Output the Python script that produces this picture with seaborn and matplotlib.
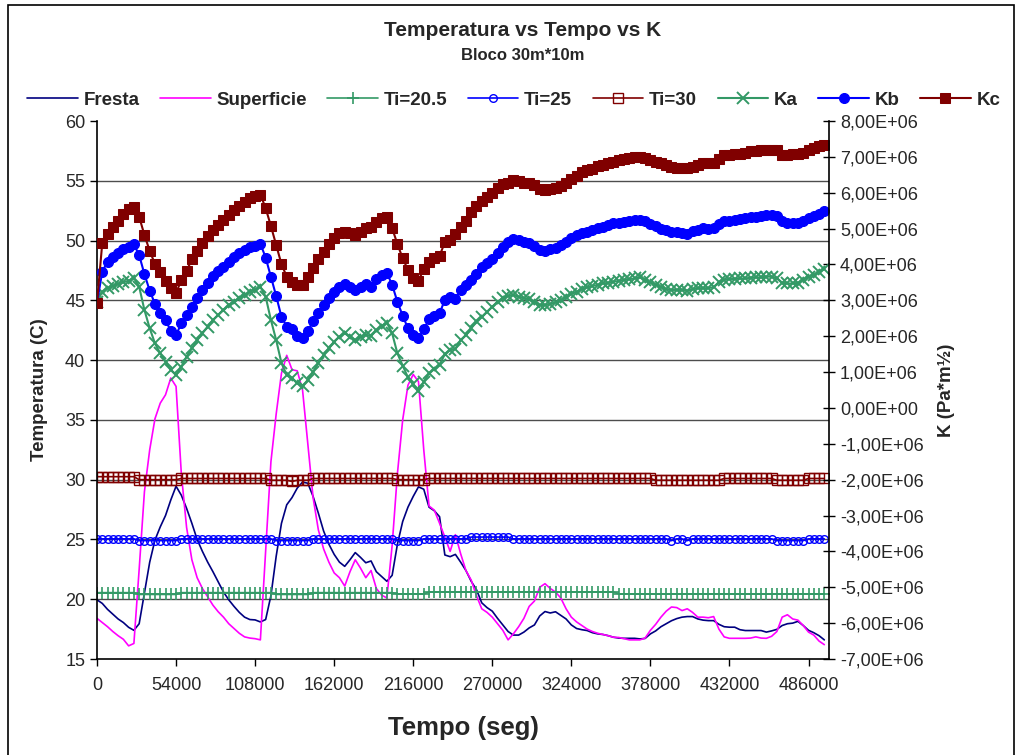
import numpy as np
import pandas as pd
import matplotlib
matplotlib.use("Agg")
import matplotlib.pyplot as plt
from matplotlib.patches import Rectangle
from matplotlib.ticker import FuncFormatter, MultipleLocator
import seaborn as sns

# tempo em segundos (passo de 1 hora)
tempo = np.arange(0, 500000, 3600)

fresta = [
    19.95, 19.65, 19.15, 18.75, 18.35, 18.05, 17.65, 17.4, 17.95, 20.5,
    23.1, 24.95, 26.05, 27.0, 28.3, 29.45, 28.7, 27.6, 26.35, 25.0,
    24.0, 23.1, 22.3, 21.45, 20.6, 19.95, 19.4, 18.9, 18.5, 18.3,
    18.27, 18.1, 18.3, 20.3, 23.6, 26.35, 27.9, 28.5, 29.3, 29.8,
    29.7, 28.6, 27.2, 25.7, 24.6, 23.75, 23.1, 22.75, 23.3, 23.9,
    23.5, 23.05, 23.2, 22.3, 21.9, 21.5, 22.0, 24.6, 26.5, 27.7,
    28.6, 29.4, 29.2, 27.7, 27.4, 26.9, 23.7, 23.56, 23.75, 23.1,
    22.4, 21.5, 20.8, 19.7, 19.3, 19.0, 18.4, 17.85, 17.3, 17.0,
    17.0, 17.25, 17.6, 17.85, 18.6, 18.97, 18.85, 18.95, 18.65, 18.35,
    17.85, 17.55, 17.45, 17.38, 17.2, 17.1, 17.05, 16.95, 16.82, 16.75,
    16.73, 16.73, 16.73, 16.68, 16.72, 17.1, 17.35, 17.7, 17.95, 18.2,
    18.38, 18.5, 18.55, 18.55, 18.35, 18.25, 18.21, 18.21, 17.9, 17.7,
    17.66, 17.66, 17.45, 17.38, 17.38, 17.38, 17.38, 17.25, 17.35, 17.48,
    17.8, 17.95, 18.0, 18.15, 17.8, 17.4, 17.2, 16.95, 16.6,
]

superficie = [
    18.4, 18.05, 17.7, 17.3, 16.95, 16.65, 16.1, 16.3, 22.5, 29.0,
    32.5, 35.1, 36.4, 37.1, 38.5, 37.8, 30.5, 26.0, 23.3, 21.8,
    20.9, 20.2, 19.5, 18.95, 18.5, 17.95, 17.55, 17.15, 16.85, 16.75,
    16.7, 16.6, 24.0, 31.5, 35.5, 38.9, 40.4, 39.2, 39.1, 37.5,
    33.0, 28.5, 25.8, 24.2, 23.1, 22.2, 21.8, 21.1, 22.3, 23.3,
    22.6, 21.8, 22.4, 20.9, 20.35, 20.1, 24.5, 30.5, 35.0, 37.9,
    38.8, 38.2, 32.5, 27.8, 27.45, 26.35, 25.2, 24.0, 25.4, 23.8,
    22.4, 21.6, 20.3, 19.2, 18.9, 18.5, 17.95, 17.4, 16.6, 17.1,
    17.7, 18.4, 19.4, 19.85, 21.0, 21.3, 20.9, 20.6, 20.1, 19.2,
    18.5, 18.1, 17.8, 17.5, 17.3, 17.15, 17.05, 16.95, 16.82, 16.8,
    16.7, 16.6, 16.6, 16.6, 16.75, 17.4, 17.9, 18.5, 19.0, 19.35,
    19.3, 19.05, 19.2, 18.9, 18.5, 18.5, 18.45, 18.55, 17.5, 16.85,
    16.73, 16.73, 16.73, 16.73, 16.75, 16.85, 16.75, 16.73, 16.9, 17.3,
    18.5, 18.7, 18.35, 18.25, 17.8, 17.25, 17.0, 16.5, 16.2,
]

ti_205 = [
    20.55, 20.55, 20.55, 20.55, 20.55, 20.55, 20.55, 20.55, 20.4, 20.4,
    20.4, 20.4, 20.4, 20.4, 20.4, 20.4, 20.55, 20.55, 20.55, 20.55,
    20.55, 20.55, 20.55, 20.55, 20.55, 20.55, 20.55, 20.55, 20.55, 20.55,
    20.55, 20.55, 20.55, 20.55, 20.4, 20.4, 20.4, 20.4, 20.4, 20.4,
    20.4, 20.55, 20.55, 20.55, 20.55, 20.55, 20.55, 20.55, 20.55, 20.55,
    20.55, 20.55, 20.55, 20.55, 20.55, 20.55, 20.55, 20.45, 20.45, 20.45,
    20.45, 20.45, 20.45, 20.6, 20.6, 20.6, 20.6, 20.6, 20.6, 20.6,
    20.6, 20.6, 20.6, 20.6, 20.6, 20.6, 20.6, 20.6, 20.6, 20.6,
    20.6, 20.6, 20.6, 20.6, 20.6, 20.6, 20.6, 20.6, 20.6, 20.6,
    20.6, 20.6, 20.6, 20.6, 20.6, 20.6, 20.6, 20.6, 20.6, 20.45,
    20.45, 20.45, 20.45, 20.45, 20.45, 20.45, 20.45, 20.45, 20.45, 20.45,
    20.45, 20.45, 20.45, 20.45, 20.45, 20.45, 20.45, 20.45, 20.45, 20.45,
    20.45, 20.45, 20.45, 20.45, 20.45, 20.45, 20.45, 20.45, 20.45, 20.45,
    20.45, 20.45, 20.45, 20.45, 20.45, 20.45, 20.45, 20.45, 20.45,
]

ti_25 = [
    25.05, 25.05, 25.05, 25.05, 25.05, 25.05, 25.05, 25.05, 24.9, 24.9,
    24.9, 24.9, 24.9, 24.9, 24.9, 24.9, 25.05, 25.05, 25.05, 25.05,
    25.05, 25.05, 25.05, 25.05, 25.05, 25.05, 25.05, 25.05, 25.05, 25.05,
    25.05, 25.05, 25.05, 25.05, 24.9, 24.9, 24.9, 24.9, 24.9, 24.9,
    24.9, 25.05, 25.05, 25.05, 25.05, 25.05, 25.05, 25.05, 25.05, 25.05,
    25.05, 25.05, 25.05, 25.05, 25.05, 25.05, 25.05, 24.9, 24.9, 24.9,
    24.9, 24.9, 25.05, 25.05, 25.05, 25.05, 25.05, 25.05, 25.05, 25.05,
    25.05, 25.2, 25.2, 25.2, 25.2, 25.2, 25.2, 25.2, 25.2, 25.05,
    25.05, 25.05, 25.05, 25.05, 25.05, 25.05, 25.05, 25.05, 25.05, 25.05,
    25.05, 25.05, 25.05, 25.05, 25.05, 25.05, 25.05, 25.05, 25.05, 25.05,
    25.05, 25.05, 25.05, 25.05, 25.05, 25.05, 25.05, 25.05, 25.05, 24.9,
    25.05, 25.05, 24.9, 25.05, 25.05, 25.05, 25.05, 25.05, 25.05, 25.05,
    25.05, 25.05, 25.05, 25.05, 25.05, 25.05, 25.05, 25.05, 25.05, 24.9,
    24.9, 24.9, 24.9, 24.9, 24.9, 25.05, 25.05, 25.05, 25.05,
]

ti_30 = [
    30.25, 30.25, 30.25, 30.25, 30.25, 30.25, 30.25, 30.25, 30.0, 30.0,
    30.0, 30.0, 30.0, 30.0, 30.0, 30.0, 30.1, 30.1, 30.1, 30.1,
    30.1, 30.1, 30.1, 30.1, 30.1, 30.1, 30.1, 30.1, 30.1, 30.1,
    30.1, 30.1, 30.1, 29.95, 29.95, 29.95, 29.95, 29.85, 29.95, 29.95,
    29.95, 30.1, 30.1, 30.1, 30.1, 30.1, 30.1, 30.1, 30.1, 30.1,
    30.1, 30.1, 30.1, 30.1, 30.1, 30.1, 30.1, 30.0, 30.0, 30.0,
    30.0, 30.0, 30.0, 30.1, 30.1, 30.1, 30.1, 30.1, 30.1, 30.1,
    30.1, 30.1, 30.1, 30.1, 30.1, 30.1, 30.1, 30.1, 30.1, 30.1,
    30.1, 30.1, 30.1, 30.1, 30.1, 30.1, 30.1, 30.1, 30.1, 30.1,
    30.1, 30.1, 30.1, 30.1, 30.1, 30.1, 30.1, 30.1, 30.1, 30.1,
    30.1, 30.1, 30.1, 30.1, 30.1, 30.1, 29.95, 29.95, 29.95, 29.95,
    29.95, 29.95, 29.95, 29.95, 29.95, 29.95, 29.95, 29.95, 29.95, 30.1,
    30.1, 30.1, 30.1, 30.1, 30.1, 30.1, 30.1, 30.1, 30.1, 29.95,
    29.95, 29.95, 29.95, 29.95, 29.95, 30.1, 30.1, 30.1, 30.1,
]

# K em 1e6 Pa*m^1/2
ka = [
    2.95, 3.24, 3.34, 3.4, 3.46, 3.5, 3.55, 3.62, 3.38, 2.73,
    2.22, 1.8, 1.52, 1.29, 1.06, 0.92, 1.15, 1.43, 1.66, 1.89,
    2.08, 2.27, 2.45, 2.59, 2.73, 2.87, 2.96, 3.06, 3.15, 3.24,
    3.3, 3.38, 3.1, 2.45, 1.89, 1.25, 0.92, 0.83, 0.69, 0.6,
    0.78, 1.01, 1.25, 1.48, 1.66, 1.85, 1.99, 2.08, 1.99, 1.89,
    1.99, 2.03, 2.01, 2.17, 2.28, 2.38, 2.08, 1.52, 1.18, 0.85,
    0.66, 0.46, 0.73, 0.97, 1.08, 1.2, 1.5, 1.62, 1.64, 1.89,
    2.03, 2.22, 2.41, 2.54, 2.68, 2.82, 2.96, 3.06, 3.12, 3.15,
    3.1, 3.06, 3.03, 2.96, 2.87, 2.87, 2.9, 2.94, 3.01, 3.08,
    3.18, 3.24, 3.31, 3.36, 3.4, 3.43, 3.47, 3.49, 3.52, 3.54,
    3.57, 3.59, 3.61, 3.64, 3.58, 3.5, 3.44, 3.37, 3.31, 3.29,
    3.29, 3.29, 3.27, 3.31, 3.34, 3.34, 3.34, 3.37, 3.5, 3.58,
    3.59, 3.6, 3.61, 3.61, 3.63, 3.64, 3.64, 3.66, 3.66, 3.61,
    3.49, 3.47, 3.47, 3.49, 3.57, 3.66, 3.71, 3.79, 3.87,
]

kb = [
    2.93, 3.8, 4.08, 4.22, 4.33, 4.42, 4.5, 4.56, 4.26, 3.73,
    3.27, 2.9, 2.66, 2.45, 2.15, 2.03, 2.36, 2.59, 2.82, 3.06,
    3.29, 3.49, 3.68, 3.83, 3.94, 4.08, 4.22, 4.31, 4.4, 4.48,
    4.52, 4.58, 4.19, 3.66, 3.12, 2.54, 2.27, 2.19, 2.01, 1.94,
    2.15, 2.41, 2.66, 2.87, 3.06, 3.24, 3.38, 3.46, 3.38, 3.29,
    3.38, 3.46, 3.37, 3.59, 3.71, 3.77, 3.43, 2.96, 2.57, 2.22,
    2.02, 1.94, 2.19, 2.48, 2.56, 2.64, 3.01, 3.08, 3.05, 3.29,
    3.43, 3.57, 3.73, 3.94, 4.03, 4.14, 4.31, 4.5, 4.64, 4.7,
    4.67, 4.64, 4.59, 4.52, 4.4, 4.38, 4.42, 4.45, 4.54, 4.64,
    4.73, 4.82, 4.87, 4.91, 4.96, 5.01, 5.05, 5.1, 5.15, 5.17,
    5.19, 5.22, 5.24, 5.24, 5.21, 5.12, 5.06, 5.0, 4.95, 4.91,
    4.9, 4.89, 4.86, 4.93, 4.97, 5.01, 4.98, 5.01, 5.12, 5.2,
    5.22, 5.25, 5.28, 5.3, 5.31, 5.33, 5.35, 5.38, 5.38, 5.34,
    5.2, 5.15, 5.15, 5.15, 5.22, 5.29, 5.35, 5.42, 5.49,
]

kc = [
    2.93, 4.6, 4.85, 5.05, 5.22, 5.4, 5.55, 5.6, 5.33, 4.82,
    4.38, 4.01, 3.78, 3.55, 3.35, 3.2, 3.57, 3.82, 4.14, 4.38,
    4.6, 4.8, 4.95, 5.1, 5.25, 5.38, 5.52, 5.64, 5.75, 5.84,
    5.9, 5.95, 5.57, 5.07, 4.54, 4.01, 3.66, 3.52, 3.43, 3.43,
    3.66, 3.89, 4.14, 4.36, 4.57, 4.73, 4.87, 4.91, 4.87, 4.82,
    4.91, 5.01, 5.04, 5.19, 5.29, 5.33, 5.01, 4.57, 4.17, 3.85,
    3.61, 3.55, 3.87, 4.08, 4.17, 4.24, 4.62, 4.67, 4.85, 5.05,
    5.22, 5.45, 5.62, 5.77, 5.87, 6.0, 6.14, 6.24, 6.28, 6.35,
    6.32, 6.28, 6.26, 6.22, 6.1, 6.08, 6.1, 6.13, 6.2, 6.28,
    6.38, 6.48, 6.58, 6.62, 6.66, 6.74, 6.78, 6.82, 6.85, 6.91,
    6.93, 6.96, 6.99, 7.0, 6.97, 6.92, 6.87, 6.83, 6.76, 6.72,
    6.69, 6.69, 6.69, 6.71, 6.77, 6.82, 6.82, 6.84, 6.95, 7.04,
    7.05, 7.07, 7.09, 7.12, 7.15, 7.17, 7.19, 7.19, 7.19, 7.18,
    7.05, 7.05, 7.07, 7.08, 7.12, 7.18, 7.24, 7.29, 7.34,
]

df = pd.DataFrame({
    "tempo": tempo,
    "Fresta": fresta,
    "Superficie": superficie,
    "Ti=20.5": ti_205,
    "Ti=25": ti_25,
    "Ti=30": ti_30,
    "Ka": np.array(ka) * 1e6,
    "Kb": np.array(kb) * 1e6,
    "Kc": np.array(kc) * 1e6,
})

NAVY = "#000080"
MAGENTA = "#FF00FF"
GREEN = "#339966"
BLUE = "#0000FF"
DRED = "#800000"

sns.set_style("white")
plt.rcParams["font.family"] = ["Liberation Sans", "DejaVu Sans"]

fig = plt.figure(figsize=(10.17, 7.55), dpi=100)
ax = fig.add_axes([97 / 1017, 1 - 659 / 755, 732 / 1017, 538 / 755])
ax2 = ax.twinx()

# temperaturas (eixo esquerdo)
sns.lineplot(data=df, x="tempo", y="Fresta", ax=ax, color=NAVY, lw=1.2, label="Fresta")
sns.lineplot(data=df, x="tempo", y="Superficie", ax=ax, color=MAGENTA, lw=1.2, label="Superficie")
sns.lineplot(data=df, x="tempo", y="Ti=20.5", ax=ax, color=GREEN, lw=1.2, marker="+",
             markersize=8, markeredgecolor=GREEN, markeredgewidth=1.2, label="Ti=20.5")
sns.lineplot(data=df, x="tempo", y="Ti=25", ax=ax, color=BLUE, lw=1.2, marker="o",
             markersize=5.5, markerfacecolor="none", markeredgecolor=BLUE,
             markeredgewidth=1.0, label="Ti=25")
sns.lineplot(data=df, x="tempo", y="Ti=30", ax=ax, color=DRED, lw=1.2, marker="s",
             markersize=6.5, markerfacecolor="none", markeredgecolor=DRED,
             markeredgewidth=1.0, label="Ti=30")

# fator K (eixo direito)
sns.lineplot(data=df, x="tempo", y="Ka", ax=ax2, color=GREEN, lw=1.5, marker="x",
             markersize=8, markeredgecolor=GREEN, markeredgewidth=1.4, label="Ka")
sns.lineplot(data=df, x="tempo", y="Kb", ax=ax2, color=BLUE, lw=1.5, marker="o",
             markersize=7.2, markeredgecolor=BLUE, label="Kb")
sns.lineplot(data=df, x="tempo", y="Kc", ax=ax2, color=DRED, lw=1.5, marker="s",
             markersize=7.8, markeredgecolor=DRED, label="Kc")

ax.set_xlim(0, 500000)
ax.set_ylim(15, 60)
ax2.set_ylim(-7e6, 8e6)
ax.set_xticks(np.arange(0, 500000, 54000))
ax.yaxis.set_major_locator(MultipleLocator(5))
ax2.yaxis.set_major_locator(MultipleLocator(1e6))
ax2.yaxis.set_major_formatter(FuncFormatter(lambda v, p: f"{v:.2E}".replace(".", ",")))

for y in range(20, 60, 5):
    ax.axhline(y, color="#4d4d4d", lw=1.0, zorder=0)

for a in (ax, ax2):
    for s in a.spines.values():
        s.set_visible(False)
ax.spines["left"].set_visible(True)
ax.spines["bottom"].set_visible(True)
ax2.spines["right"].set_visible(True)
for s in (ax.spines["left"], ax.spines["bottom"], ax2.spines["right"]):
    s.set_color("black")
    s.set_linewidth(1.2)

ax.tick_params(axis="both", which="major", direction="out", length=5, width=1,
               color="black", labelsize=13, left=True, bottom=True)
ax2.tick_params(axis="y", direction="inout", length=9, width=1, color="black",
                labelsize=13, right=True)
ax.tick_params(axis="x", pad=8)

ax.set_xlabel("Tempo (seg)", fontsize=18.5, fontweight="bold", labelpad=16)
ax.set_ylabel("Temperatura (C)", fontsize=13.5, fontweight="bold", labelpad=12)
ax2.set_ylabel("K (Pa*m½)", fontsize=13.5, fontweight="bold", labelpad=10)

fig.text(0.514, 1 - 30 / 755, "Temperatura vs Tempo vs K", ha="center", va="center",
         fontsize=15, fontweight="bold")
fig.text(0.514, 1 - 56 / 755, "Bloco 30m*10m", ha="center", va="center",
         fontsize=12, fontweight="bold")

h1, l1 = ax.get_legend_handles_labels()
h2, l2 = ax2.get_legend_handles_labels()
ax.get_legend().remove()
ax2.get_legend().remove()
fig.legend(h1 + h2, l1 + l2, loc="center", bbox_to_anchor=(0.505, 1 - 100 / 755),
           ncol=8, frameon=False, prop={"weight": "bold", "size": 13.5},
           handlelength=2.7, handletextpad=0.3, columnspacing=1.1, numpoints=1)

fig.patches.append(Rectangle((8 / 1017, -0.01), 1006 / 1017, 1.01 - 5 / 755,
                             transform=fig.transFigure, fill=False,
                             edgecolor="black", lw=1.2))

fig.savefig("out.png", dpi=100)
